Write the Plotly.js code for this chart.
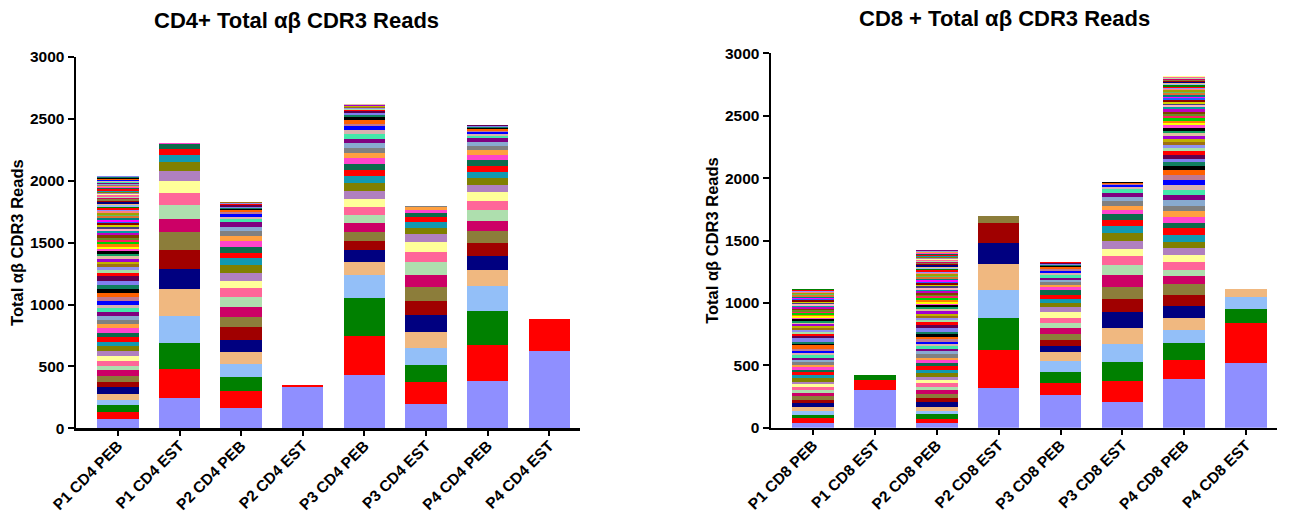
<!DOCTYPE html>
<html>
<head>
<meta charset="utf-8">
<script src="https://cdn.plot.ly/plotly-3.0.1.min.js"></script>
<style>html,body{margin:0;padding:0;background:#fff;}#chart{width:1295px;height:516px;}</style>
</head>
<body>
<div id="chart"></div>
<script>
// Categories / tick labels
const cd4Categories = ['P1 CD4 PEB','P1 CD4 EST','P2 CD4 PEB','P2 CD4 EST','P3 CD4 PEB','P3 CD4 EST','P4 CD4 PEB','P4 CD4 EST'];
const cd8Categories = ['P1 CD8 PEB','P1 CD8 EST','P2 CD8 PEB','P2 CD8 EST','P3 CD8 PEB','P3 CD8 EST','P4 CD8 PEB','P4 CD8 EST'];
const yTickValues = [0,500,1000,1500,2000,2500,3000];

// Reads per clonotype (stacked from bottom), one array per bar
const cd4_P1_PEB = [78,54,54,46,49,54,40,49,46,35,40,38,40,40,38,35,35,38,35,32,30,32,32,30,32,32,32,32,30,30,45,
  24,24,22,22,22,21,21,20,20,20,19,19,18,18,18,17,17,17,16,16,16,15,15,15,14,14,14,14,13,13,13,12,12,12,12,11,11,11,11,10,10,10,10,9,9,9,9,8,8,8,
  8,8,8,7,7,7,7,7,6];
const cd4_P1_EST = [243,234,216,218,214,161,151,151,105,108,103,94,83,73,54,49,37,11];
const cd4_P2_PEB = [164,138,111,105,102,95,102,86,81,73,73,57,67,62,57,43,46,48,40,41,35,38,27,15,28,14,12,12,10,10,9,8,7,6,6];
const cd4_P2_EST = [337,12];
const cd4_P3_PEB = [429,313,310,186,102,97,73,73,73,70,64,65,65,62,59,49,46,48,41,40,41,32,41,29,33,21,25,29,19,14,12,11,10,9,8,7,7,6,5];
const cd4_P3_EST = [197,175,143,130,137,135,113,111,97,102,81,81,65,49,48,41,32,27,24,6];
const cd4_P4_PEB = [383,291,275,203,129,108,105,97,87,89,72,73,54,57,51,46,46,43,40,35,27,33,21,12,15,13,14,10,8,6,4];
const cd4_P4_EST = [628,257];

const cd8_P1_PEB = [35,40,27,35,27,37,24,29,24,24,21,24,21,27,24,24,19,21,21,21,21,16,19,21,13,19,27,13,13,29,
  18,17,16,16,15,15,14,14,14,13,13,13,13,12,12,12,12,12,11,11,11,11,10,10,10,10,9,9,9,8,8,8,7];
const cd8_P1_EST = [302,80,40];
const cd8_P2_PEB = [35,37,35,29,32,35,32,35,32,27,32,21,27,27,27,29,24,24,21,27,27,13,27,16,19,19,16,27,13,37,21,
  20,19,18,18,17,17,16,16,16,15,15,15,14,14,14,14,13,13,13,13,13,12,12,12,12,12,11,11,11,11,11,10,10,10,10,10,9,9,9,9,8,8,8,7,7,7,6,6,6,6,6];
const cd8_P2_EST = [318,307,251,227,206,168,160,57];
const cd8_P3_PEB = [262,96,88,85,73,53,48,49,42,46,40,42,41,37,32,32,35,24,19,21,19,16,24,12,22,14,12,11,10,9,8,5,4];
const cd8_P3_EST = [208,166,150,144,133,129,104,96,91,86,66,62,64,64,56,48,43,37,33,40,32,32,26,22,13,10,8,6,3];
const cd8_P4_PEB = [387,153,141,102,96,94,90,86,64,51,67,56,53,48,54,56,45,46,45,43,45,40,43,40,40,38,40,32,35,26,32,27,
  26,25,24,24,23,22,22,21,20,20,19,19,18,18,17,17,16,16,15,15,14,14,13,13,12,12,12,11,11,10,10,10,9,9,8,8,8,7,7,6];
const cd8_P4_EST = [521,321,109,96,65];

// Clonotype colour sequence (repeats)
const palette = ['#8F8FFF','#FF0000','#008000','#93BFF8','#F0B880','#000080','#A00000','#8C7D3A','#CC0066','#AEDFAE',
  '#FF6699','#FFFF99','#B080C0','#808000','#1199B0','#FF0000','#0B6B4B','#FF44CC','#FFA040','#808080',
  '#88AAD0','#800080','#44E8AA','#D8B0B0','#0000FF','#C07890','#FF6000','#000000','#108060','#8080F0',
  '#600050','#FF0000','#A8E0A8','#9090F0','#A07010','#C0B000','#A000D0','#E0C0A0','#10A060','#000000',
  '#FF44CC','#FFFF00','#FF8000','#00D000','#FF2060','#6B8E23','#804000','#C000C0','#00A0A0','#FFB0C0',
  '#404080','#D0D000','#8B0000','#2060FF','#FF00FF','#008080','#E07030','#60C060','#A0A000','#FF8080'];

const cd4Bars = [cd4_P1_PEB,cd4_P1_EST,cd4_P2_PEB,cd4_P2_EST,cd4_P3_PEB,cd4_P3_EST,cd4_P4_PEB,cd4_P4_EST];
const cd8Bars = [cd8_P1_PEB,cd8_P1_EST,cd8_P2_PEB,cd8_P2_EST,cd8_P3_PEB,cd8_P3_EST,cd8_P4_PEB,cd8_P4_EST];

function buildTraces(bars, cats, xa, ya) {
  const n = Math.max(...bars.map(b => b.length));
  const traces = [];
  for (let i = 0; i < n; i++) {
    traces.push({
      type: 'bar', x: cats, y: bars.map(b => (i < b.length ? b[i] : 0)),
      xaxis: xa, yaxis: ya, hoverinfo: 'skip',
      marker: {color: palette[i % palette.length], line: {width: 0}}
    });
  }
  return traces;
}

const FONT = 'Liberation Sans, Arial, Helvetica, sans-serif';
const W = 1295, H = 516;
const tickFont = {family: FONT, size: 15.5, color: '#000', weight: 'bold'};
const xTickFont = {family: FONT, size: 15.5, color: '#000', weight: 'bold'};
const yTitle = {text: 'Total \u03b1\u03b2 CDR3 Reads', font: {family: FONT, size: 16.5, color: '#000', weight: 'bold'}, standoff: 2};

function xAxis(dom, yref) {
  return {domain: dom, anchor: yref, type: 'category', range: [-0.68, 7.5], showline: true, linecolor: '#000', linewidth: 2.5,
    ticks: 'outside', ticklen: 5, tickwidth: 2, tickcolor: '#000', tickangle: -45, tickfont: xTickFont, ticklabelstandoff: -5,
    showgrid: false, zeroline: false, fixedrange: true};
}
function yAxis(dom, xref) {
  return {domain: dom, anchor: xref, range: [0, 3000], tickvals: yTickValues, showline: true, linecolor: '#000', linewidth: 2.5,
    ticks: 'outside', ticklen: 6, tickwidth: 2, tickcolor: '#000', tickfont: tickFont, title: yTitle,
    showgrid: false, zeroline: false, fixedrange: true};
}

const layout = {
  width: W, height: H, margin: {l: 0, r: 0, t: 0, b: 0},
  paper_bgcolor: '#fff', plot_bgcolor: '#fff', barmode: 'stack', bargap: 0.33, showlegend: false,
  font: {family: FONT, color: '#000'},
  xaxis: xAxis([76 / W, 580 / W], 'y'),
  yaxis: yAxis([(H - 428.3) / H, (H - 57) / H], 'x'),
  xaxis2: xAxis([771 / W, 1277 / W], 'y2'),
  yaxis2: yAxis([(H - 427.7) / H, (H - 53.3) / H], 'x2'),
  annotations: [
    {text: 'CD4+ Total \u03b1\u03b2 CDR3 Reads', x: 296 / W, y: (H - 21) / H, xref: 'paper', yref: 'paper', showarrow: false,
      xanchor: 'center', yanchor: 'middle', font: {family: FONT, size: 22, color: '#000', weight: 'bold'}},
    {text: 'CD8 + Total \u03b1\u03b2 CDR3 Reads', x: 1004 / W, y: (H - 19) / H, xref: 'paper', yref: 'paper', showarrow: false,
      xanchor: 'center', yanchor: 'middle', font: {family: FONT, size: 22, color: '#000', weight: 'bold'}}
  ]
};

const data = buildTraces(cd4Bars, cd4Categories, 'x', 'y').concat(buildTraces(cd8Bars, cd8Categories, 'x2', 'y2'));
Plotly.newPlot('chart', data, layout, {staticPlot: true, displayModeBar: false});
</script>
</body>
</html>
